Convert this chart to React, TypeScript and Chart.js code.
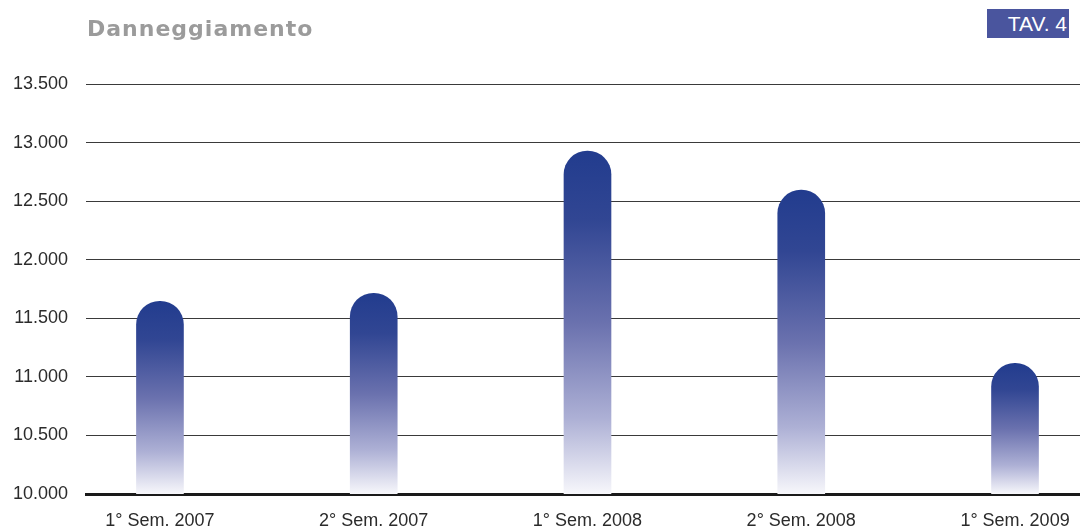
import React, { useEffect, useRef } from "react";
import { Chart, registerables } from "chart.js";

Chart.register(...registerables);

const categories = ["1° Sem. 2007", "2° Sem. 2007", "1° Sem. 2008", "2° Sem. 2008", "1° Sem. 2009"];
const values = [11645, 11714, 12927, 12594, 11115];
const yTicks = [10000, 10500, 11000, 11500, 12000, 12500, 13000, 13500];
const titleText = "Danneggiamento";
const badgeText = "TAV. 4";

const Y_MIN = 10000;
const Y_MAX = 13500;

function fmt(v: number): string {
  const s = String(Math.round(v));
  return s.replace(/\B(?=(\d{3})+(?!\d))/g, ".");
}

export default function App() {
  const ref = useRef<HTMLCanvasElement | null>(null);

  useEffect(() => {
    document.body.style.margin = "0";
    const canvas = ref.current;
    if (!canvas) return;
    const chart = new Chart(canvas, {
      type: "bar",
      data: {
        datasets: [
          {
            data: values.map((v, i) => ({ x: i, y: v })),
            barThickness: 47,
            borderRadius: { topLeft: 24, topRight: 24, bottomLeft: 0, bottomRight: 0 },
            borderSkipped: false,
            backgroundColor: (ctx: any) => {
              const ch = ctx.chart;
              const ys = ch.scales && ch.scales.y;
              if (!ch.chartArea || !ys || ctx.type !== "data") return "#4a559e";
              const v = ctx.raw ? ctx.raw.y : values[ctx.dataIndex];
              const top = ys.getPixelForValue(v);
              const bottom = ys.getPixelForValue(Y_MIN);
              const g = ch.ctx.createLinearGradient(0, top, 0, bottom);
              g.addColorStop(0, "#223c8e");
              g.addColorStop(0.2, "#314693");
              g.addColorStop(0.5, "#6a71ae");
              g.addColorStop(0.78, "#adb0d5");
              g.addColorStop(1, "#f7f7fb");
              return g;
            },
          } as any,
        ],
      },
      options: {
        animation: false,
        responsive: false,
        maintainAspectRatio: false,
        layout: { autoPadding: false, padding: { top: 84, right: 0, left: 0, bottom: 0 } },
        plugins: { legend: { display: false }, tooltip: { enabled: false }, title: { display: false } },
        scales: {
          x: {
            type: "linear",
            position: "bottom",
            offset: false,
            min: -0.346,
            max: 4.304,
            z: 1,
            grid: { display: false, drawTicks: false, offset: false },
            border: { display: true, color: "#1a1a1a", width: 3 },
            afterBuildTicks: (scale: any) => {
              scale.ticks = categories.map((_, i) => ({ value: i }));
            },
            afterFit: (scale: any) => {
              scale.height = 35;
              scale.paddingLeft = 0;
              scale.paddingRight = 0;
            },
            ticks: {
              autoSkip: false,
              maxRotation: 0,
              padding: 16,
              color: "#2b2b2b",
              font: { family: "'Liberation Sans', Arial, sans-serif", size: 18 },
              callback: (v: any) => categories[Number(v)] ?? "",
            },
          },
          y: {
            type: "linear",
            min: Y_MIN,
            max: Y_MAX,
            afterBuildTicks: (scale: any) => {
              scale.ticks = yTicks.map((v) => ({ value: v }));
            },
            afterFit: (scale: any) => {
              scale.width = 86;
            },
            border: { display: false },
            grid: {
              drawTicks: false,
              lineWidth: 1,
              color: (ctx: any) => (ctx.tick && ctx.tick.value === Y_MIN ? "rgba(0,0,0,0)" : "#3a3a3a"),
            },
            ticks: {
              padding: 18,
              color: "#2b2b2b",
              font: { family: "'Liberation Sans', Arial, sans-serif", size: 18 },
              callback: (v: any) => fmt(Number(v)),
            },
          },
        },
      } as any,
    });
    return () => chart.destroy();
  }, []);

  return (
    <div style={{ position: "fixed", left: 0, top: 0, width: 1080, height: 529, background: "#fff" }}>
      <canvas ref={ref} width={1080} height={529} style={{ position: "absolute", left: 0, top: 0, width: 1080, height: 529 }} />
      <div
        style={{
          position: "absolute",
          left: 87,
          top: 15,
          fontFamily: "'DejaVu Sans', sans-serif",
          fontWeight: "bold",
          fontSize: 22,
          lineHeight: "28px",
          color: "#9b9b9b",
          letterSpacing: 1,
        }}
      >
        {titleText}
      </div>
      <div
        style={{
          position: "absolute",
          left: 987,
          top: 9,
          width: 82,
          height: 29,
          background: "#4a559e",
          color: "#ffffff",
          fontFamily: "'Liberation Sans', Arial, sans-serif",
          fontSize: 21,
          lineHeight: "29px",
          textAlign: "right",
          paddingRight: 2,
          boxSizing: "border-box",
        }}
      >
        {badgeText}
      </div>
    </div>
  );
}
